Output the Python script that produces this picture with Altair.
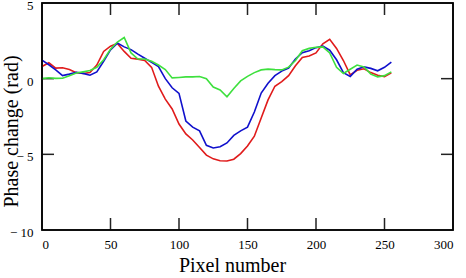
import altair as alt
import pandas as pd

# Pixel positions along the scan line
pixel = list(range(0, 256, 5))

# Phase change (rad) for the three measurements
phase_red = [0.8, 1.05, 0.7, 0.72, 0.6, 0.4, 0.34, 0.4, 0.9, 1.8,
             2.15, 2.32, 1.8, 1.35, 1.29, 1.2, 0.75, -0.5, -1.35, -2.0,
             -3.0, -3.65, -4.05, -4.55, -5.05, -5.3, -5.42, -5.44, -5.32, -4.95,
             -4.45, -3.8, -2.6, -1.4, -0.5, -0.2, 0.2, 0.85, 1.4, 1.5,
             1.7, 2.3, 2.6, 2.0, 1.2, 0.25, 0.55, 0.65, 0.4, 0.22,
             0.14, 0.38]
phase_blue = [1.23, 0.92, 0.58, 0.2, 0.3, 0.42, 0.35, 0.23, 0.45, 1.15,
              1.9, 2.35, 2.1, 1.92, 1.62, 1.35, 1.08, 0.8, 0.0, -0.6,
              -0.97, -2.8, -3.2, -3.45, -4.4, -4.58, -4.5, -4.25, -3.75, -3.45,
              -3.2, -2.2, -0.95, -0.3, 0.2, 0.5, 0.7, 1.3, 1.72, 1.85,
              2.05, 2.15, 1.88, 1.25, 0.4, 0.15, 0.62, 0.78, 0.68, 0.52,
              0.75, 1.1]
phase_green = [0.0, 0.06, 0.02, 0.03, 0.2, 0.37, 0.45, 0.54, 0.75, 1.25,
               1.95, 2.42, 2.72, 1.7, 1.3, 1.3, 1.15, 0.9, 0.6, 0.05,
               0.08, 0.12, 0.12, 0.14, 0.0, -0.55, -0.75, -1.2, -0.65, -0.15,
               0.15, 0.4, 0.58, 0.63, 0.6, 0.58, 0.76, 1.2, 1.85, 2.0,
               2.08, 2.1, 1.7, 0.75, 0.34, 0.62, 0.9, 0.78, 0.3, 0.12,
               0.2, 0.45]

# Axis tick values
x_labels = [0, 50, 100, 150, 200, 250, 300]
y_labels = [5, 0, -5, -10]
x_ticks = [50, 100, 150, 200, 250]
y_ticks = [0, -5]

X_MIN, X_MAX = 0, 300
Y_MIN, Y_MAX = -10, 5
W, H = 411, 227
TICK = 12
FONT = "Liberation Serif"

x_scale = alt.Scale(domain=[X_MIN, X_MAX], nice=False, zero=False)
y_scale = alt.Scale(domain=[Y_MIN, Y_MAX], nice=False, zero=False)

# Inward tick length converted to data units
dx = TICK * (X_MAX - X_MIN) / W
dy = TICK * (Y_MAX - Y_MIN) / H

x_axis = alt.Axis(values=x_labels, title="Pixel number",
                  labelFontSize=13, labelPadding=8,
                  titleFontSize=20, titleFontWeight="normal",
                  titleBaseline="alphabetic", titleX=190, titleY=41)
y_axis = alt.Axis(values=y_labels, title="Phase change (rad)",
                  labelExpr="datum.value < 0 ? '\u2212 ' + format(abs(datum.value), 'd') : datum.label",
                  labelFontSize=13, labelPadding=9, labelOffset=2.5,
                  titleFontSize=20, titleFontWeight="normal",
                  titleX=-21, titleY=128)

# Outline of the plot area
box = alt.Chart(pd.DataFrame([{"x": X_MIN, "x2": X_MAX, "y": Y_MIN, "y2": Y_MAX}])).mark_rect(
    fill="white", fillOpacity=0, stroke="black", strokeWidth=1.6
).encode(
    x=alt.X("x:Q", scale=x_scale, axis=x_axis), x2="x2:Q",
    y=alt.Y("y:Q", scale=y_scale, axis=y_axis), y2="y2:Q",
)

# Inward tick segments on all four sides
rows = []
for v in x_ticks:
    rows.append({"x": v, "x2": v, "y": Y_MIN, "y2": Y_MIN + dy})
    rows.append({"x": v, "x2": v, "y": Y_MAX - dy, "y2": Y_MAX})
for v in y_ticks:
    rows.append({"x": X_MIN, "x2": X_MIN + dx, "y": v, "y2": v})
    rows.append({"x": X_MAX - dx, "x2": X_MAX, "y": v, "y2": v})
ticks = alt.Chart(pd.DataFrame(rows)).mark_rule(color="#222222", strokeWidth=1.5).encode(
    x=alt.X("x:Q", scale=x_scale, axis=x_axis), x2="x2:Q",
    y=alt.Y("y:Q", scale=y_scale, axis=y_axis), y2="y2:Q",
)


def line(values, color):
    df = pd.DataFrame({"x": pixel, "y": values})
    return alt.Chart(df).mark_line(color=color, strokeWidth=1.6).encode(
        x=alt.X("x:Q", scale=x_scale, axis=x_axis),
        y=alt.Y("y:Q", scale=y_scale, axis=y_axis),
    )


chart = alt.layer(
    ticks,
    line(phase_red, "#e01b1b"),
    line(phase_blue, "#1010cc"),
    line(phase_green, "#3ee03e"),
    box,
).properties(
    width=W, height=H,
    autosize=alt.AutoSizeParams(type="none"),
    padding={"left": 42, "top": 3, "right": 12, "bottom": 48},
    background="white",
).configure_view(
    stroke="black", strokeWidth=1.5
).configure_axis(
    grid=False, domain=False, ticks=False,
    labelFont=FONT, titleFont=FONT, labelColor="black", titleColor="black",
)

chart.save("out.html", embed_options={"renderer": "svg", "actions": False})
